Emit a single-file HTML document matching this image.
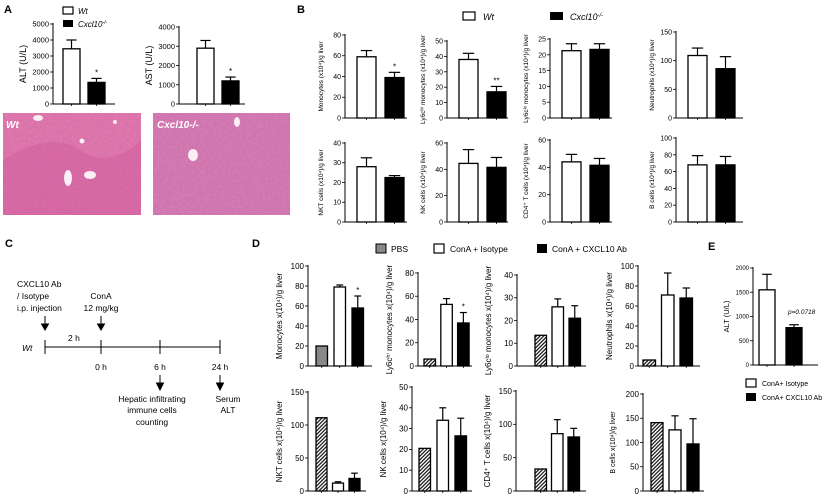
<!DOCTYPE html>
<html><head><meta charset="utf-8"><style>
html,body{margin:0;padding:0;background:#fff;}
svg{display:block;font-family:"Liberation Sans",Arial,sans-serif;}
</style></head><body>
<svg id="fig" width="829" height="497" viewBox="0 0 829 497">
<defs>
<pattern id="hatch" width="2.6" height="2.6" patternUnits="userSpaceOnUse" patternTransform="rotate(45)">
<rect width="2.6" height="2.6" fill="#fff"/><rect width="1.3" height="2.6" fill="#222"/></pattern>
<filter id="tex" x="0" y="0" width="1" height="1"><feTurbulence type="fractalNoise" baseFrequency="0.35" numOctaves="2" seed="3"/><feColorMatrix values="0 0 0 0 0.55  0 0 0 0 0.1  0 0 0 0 0.4  0 0 0 0.9 -0.2"/></filter>
<clipPath id="c1"><rect x="3" y="113" width="138" height="102"/></clipPath>
<clipPath id="c2"><rect x="153" y="113" width="137" height="102"/></clipPath>
</defs>
<g font-weight="bold" font-size="11" fill="#000">
<text x="4" y="13">A</text>
<text x="297" y="13">B</text>
<text x="5" y="247">C</text>
<text x="252" y="247">D</text>
<text x="708" y="250">E</text>
</g>
<g font-size="8" font-style="italic">
<rect x="63" y="7" width="10" height="7" fill="#fff" stroke="#000" stroke-width="1.2"/><text x="78" y="14">Wt</text>
<rect x="63" y="20" width="10" height="7" fill="#000"/><text x="78" y="27">Cxcl10<tspan font-size="5" dy="-3">-/-</tspan></text>
</g>
<g font-size="9">
<rect x="463" y="12" width="12" height="8" fill="#fff" stroke="#000" stroke-width="1.2"/><text x="483" y="20" font-style="italic">Wt</text>
<rect x="550" y="12" width="13" height="8" fill="#000"/><text x="570" y="20" font-style="italic">Cxcl10<tspan font-size="6" dy="-3">-/-</tspan></text>
</g>
<g font-size="8.5">
<rect x="376" y="244" width="10" height="9" fill="#888" stroke="#000"/><text x="391" y="252">PBS</text>
<rect x="434" y="244" width="10" height="9" fill="#fff" stroke="#000" stroke-width="1.2"/><text x="450" y="252">ConA + Isotype</text>
<rect x="537" y="244" width="10" height="9" fill="#000"/><text x="552" y="252">ConA + CXCL10 Ab</text>
</g>
<g font-size="7">
<rect x="746" y="379" width="10" height="8" fill="#fff" stroke="#000" stroke-width="1.2"/><text x="762" y="386">ConA+ Isotype</text>
<rect x="746" y="393" width="10" height="8" fill="#000"/><text x="762" y="400">ConA+ CXCL10 Ab</text>
</g>
<g clip-path="url(#c1)">
<rect x="3" y="113" width="138" height="102" fill="#e07aab"/>
<rect x="3" y="113" width="138" height="102" filter="url(#tex)" opacity="0.6"/>
<path d="M3 160 Q50 130 80 150 Q110 170 141 140 L141 215 L3 215Z" fill="#cf5c9c" opacity="0.45"/>
<ellipse cx="68" cy="178" rx="4" ry="8" fill="#fbeef4"/><ellipse cx="90" cy="175" rx="6" ry="4" fill="#fbeef4"/><ellipse cx="82" cy="141" rx="2.5" ry="2.5" fill="#fbeef4"/><ellipse cx="38" cy="118" rx="5" ry="3" fill="#fbeef4"/><ellipse cx="115" cy="122" rx="2" ry="2" fill="#fbeef4"/>
<text x="6" y="128" font-size="10" font-weight="bold" font-style="italic" fill="#fff">Wt</text>
</g>
<g clip-path="url(#c2)">
<rect x="153" y="113" width="137" height="102" fill="#d47db2"/>
<rect x="153" y="113" width="137" height="102" filter="url(#tex)" opacity="0.6"/>
<ellipse cx="193" cy="155" rx="5" ry="6" fill="#fbeef4"/><ellipse cx="237" cy="122" rx="3" ry="5" fill="#fbeef4"/>
<text x="157" y="128" font-size="10" font-weight="bold" font-style="italic" fill="#fff">Cxcl10-/-</text>
</g>
<g font-size="8.5" stroke-width="1">
<line x1="45" y1="347" x2="220" y2="347" stroke="#000"/>
<line x1="45" y1="340" x2="45" y2="354" stroke="#000"/><line x1="101" y1="340" x2="101" y2="354" stroke="#000"/>
<line x1="160" y1="340" x2="160" y2="354" stroke="#000"/><line x1="220" y1="340" x2="220" y2="354" stroke="#000"/>
<text x="22" y="351" font-style="italic">Wt</text><text x="68" y="341">2 h</text>
<text x="17" y="287">CXCL10 Ab</text><text x="17" y="299">/ Isotype</text><text x="17" y="311">i.p. injection</text>
<text x="101" y="299" text-anchor="middle">ConA</text><text x="101" y="311" text-anchor="middle">12 mg/kg</text>
<text x="101" y="370" text-anchor="middle">0 h</text><text x="160" y="370" text-anchor="middle">6 h</text><text x="220" y="370" text-anchor="middle">24 h</text>
<path d="M45 316V328M41.5 324L45 330 48.5 324Z M101 316V328M97.5 324L101 330 104.5 324Z M160 375V387M156.5 383L160 390 163.5 383Z M220 375V387M216.5 383L220 390 223.5 383Z" stroke="#000" fill="#000"/>
<text x="152" y="402" text-anchor="middle">Hepatic infiltrating</text><text x="152" y="413" text-anchor="middle">immune cells</text><text x="152" y="425" text-anchor="middle">counting</text>
<text x="228" y="402" text-anchor="middle">Serum</text><text x="228" y="413" text-anchor="middle">ALT</text>
</g>
<g id="charts"></g>
</svg>
<script>
// ---- data ----
const aLabels = ["ALT (U/L)", "AST (U/L)"];
const aValues = [[3450, 1350], [2900, 1200]];
const aErrors = [[4000, 1600], [3300, 1400]];
const aTicks = [[0, 1000, 2000, 3000, 4000, 5000], [0, 1000, 2000, 3000, 4000]];
const aStars = [["", "*"], ["", "*"]];

const bLabels = ["Monocytes (x10⁴)/g liver", "Ly6cʰⁱ monocytes (x10⁴)/g liver", "Ly6cˡᵒ monocytes (x10⁴)/g liver", "Neutrophils (x10⁴)/g liver",
  "NKT cells (x10⁴)/g liver", "NK cells (x10⁴)/g liver", "CD4⁺ T cells (x10⁴)/g liver", "B cells (x10⁴)/g liver"];
const bValues = [[59, 39], [38, 17], [21.3, 21.7], [109, 86], [28, 22.5], [44.5, 41.5], [44, 41.5], [68, 68]];
const bErrors = [[65, 44], [42, 20.5], [23.5, 23.5], [122, 107], [32.5, 23.5], [55, 49], [49.5, 46.5], [79, 78]];
const bTicks = [[0, 20, 40, 60, 80], [0, 10, 20, 30, 40, 50], [0, 5, 10, 15, 20, 25], [0, 50, 100, 150],
  [0, 10, 20, 30, 40], [0, 20, 40, 60], [0, 20, 40, 60], [0, 20, 40, 60, 80, 100]];
const bStars = [["", "*"], ["", "**"], ["", ""], ["", ""], ["", ""], ["", ""], ["", ""], ["", ""]];

const dLabels = ["Monocytes x(10⁴)/g liver", "Ly6cʰⁱ monocytes x(10⁴)/g liver", "Ly6cˡᵒ monocytes x(10⁴)/g liver", "Neutrophils x(10⁴)/g liver",
  "NKT cells x(10⁴)/g liver", "NK cells x(10⁴)/g liver", "CD4⁺ T cells x(10⁴)/g liver", "B cells x(10⁴)/g liver"];
const dValues = [[20, 79, 58], [6, 53, 37], [13.5, 26, 21], [6, 71, 68], [111, 12, 19], [20.5, 34, 26.5], [33, 86, 81], [141, 126, 97]];
const dErrors = [[20, 81, 70], [6, 58, 46], [13.5, 29.5, 26.5], [6, 93, 78], [111, 14, 27], [20.5, 40, 35], [33, 107, 94], [141, 155, 149]];
const dTicks = [[0, 20, 40, 60, 80, 100], [0, 20, 40, 60, 80], [0, 10, 20, 30, 40], [0, 20, 40, 60, 80, 100],
  [0, 50, 100, 150], [0, 10, 20, 30, 40, 50], [0, 50, 100, 150], [0, 50, 100, 150, 200]];
const dStars = [["", "", "*"], ["", "", "*"], ["", "", ""], ["", "", ""], ["", "", ""], ["", "", ""], ["", "", ""], ["", "", ""]];

const eValues = [1550, 770];
const eErrors = [1870, 830];
const eTicks = [0, 500, 1000, 1500, 2000];

// ---- layout ----
const NS = "http://www.w3.org/2000/svg";
const root = document.getElementById("charts");
function mk(tag, attrs, parent) {
  const e = document.createElementNS(NS, tag);
  for (const k in attrs) e.setAttribute(k, attrs[k]);
  parent.appendChild(e);
  return e;
}
function plot(name, L, vals, errs, ticks, label, stars, fills, fs) {
  const g = mk("g", {}, root);
  
  
  const max = ticks[ticks.length - 1];
  const y = v => L.bottom - v / max * (L.bottom - L.top);
  const bx = i => L.bx0 + i * L.step;
  mk("line", {x1: L.x, y1: L.top - 1, x2: L.x, y2: L.bottom + 0.5, stroke: "#000", "stroke-width": 1}, g);
  mk("line", {x1: L.x, y1: L.bottom, x2: L.end, y2: L.bottom, stroke: "#000", "stroke-width": 1}, g);
  ticks.forEach(t => {
    mk("line", {x1: L.x - 3, y1: y(t), x2: L.x, y2: y(t), stroke: "#000", "stroke-width": 0.8}, g);
    const tx = mk("text", {x: L.x - 4, y: y(t) + fs * 0.35, "font-size": fs, "text-anchor": "end"}, g);
    tx.textContent = t;
  });
  vals.forEach((v, i) => {
    const x0 = bx(i), cx = x0 + L.bw / 2;
    mk("line", {x1: cx, y1: L.bottom, x2: cx, y2: L.bottom + 2, stroke: "#000", "stroke-width": 0.8}, g);
    if (errs[i] > v) {
      mk("line", {x1: cx, y1: y(v), x2: cx, y2: y(errs[i]), stroke: "#000", "stroke-width": 1.2}, g);
      mk("line", {x1: cx - L.bw * 0.3, y1: y(errs[i]), x2: cx + L.bw * 0.3, y2: y(errs[i]), stroke: "#000", "stroke-width": 1.2}, g);
    }
    let f = fills[i];
    if (f === "url(#hatch)" && name === "chart-d-0") f = "#888";
    const r = mk("rect", {x: x0, y: y(v), width: L.bw, height: L.bottom - y(v), fill: f, stroke: "#000", "stroke-width": 1.3}, g);
    
    
    if (stars[i]) {
      const s = mk("text", {x: cx, y: y(errs[i]) - 3, "font-size": 8, "text-anchor": "middle"}, g);
      s.textContent = stars[i];
    }
  });
  const ly = (L.top + L.bottom) / 2;
  const lt = mk("text", {x: L.x - L.lab, y: ly, "font-size": L.lfs, "text-anchor": "middle", transform: "rotate(-90 " + (L.x - L.lab) + " " + ly + ")"}, g);
  lt.textContent = label;
  return y;
}
const two = ["#fff", "#000"], three = ["url(#hatch)", "#fff", "#000"];
// A
const aLay = [{x: 53, top: 24, bottom: 104, end: 115, bx0: 63, step: 25, bw: 17, lab: 27, lfs: 9},
              {x: 179, top: 27, bottom: 104, end: 245, bx0: 197, step: 25, bw: 17, lab: 27, lfs: 9}];
aLay.forEach((L, i) => plot("chart-a-" + i, L, aValues[i], aErrors[i], aTicks[i], aLabels[i], aStars[i], two, 7.5));
// B
const bX = [345, 447, 550, 676], bEnds = [407, 508, 612, 743];
bValues.forEach((v, i) => {
  const c = i % 4, r = Math.floor(i / 4);
  const top = r === 0 ? [35, 41, 39, 32][c] : [143, 143, 140, 138][c];
  const L = {x: bX[c], top: top, bottom: r === 0 ? 118 : 222, end: bEnds[c], bx0: bX[c] + 12, step: 28, bw: 19, lab: 22, lfs: 6.5};
  plot("chart-b-" + i, L, v, bErrors[i], bTicks[i], bLabels[i], bStars[i], two, 7);
});
// D
const dLay = [
  {x: 308, top: 266, bottom: 366, end: 372, bx0: 316, step: 18, bw: 11.5},
  {x: 418, top: 273, bottom: 366, end: 472, bx0: 424, step: 16.8, bw: 11.5},
  {x: 517, top: 275, bottom: 366, end: 586, bx0: 535, step: 17, bw: 11.5},
  {x: 638, top: 266, bottom: 366, end: 700, bx0: 643, step: 18.5, bw: 12.5},
  {x: 308, top: 392, bottom: 491, end: 366, bx0: 316, step: 16.5, bw: 11},
  {x: 412, top: 387, bottom: 491, end: 472, bx0: 419, step: 18, bw: 11.5},
  {x: 516, top: 391, bottom: 491, end: 586, bx0: 535, step: 16.5, bw: 11.5},
  {x: 643, top: 394, bottom: 491, end: 704, bx0: 651, step: 18, bw: 12}
];
dValues.forEach((v, i) => {
  const L = Object.assign({lab: 26, lfs: 8}, dLay[i]);
  if (i === 7) { L.lab = 28; L.lfs = 7; }
  plot("chart-d-" + i, L, v, dErrors[i], dTicks[i], dLabels[i], dStars[i], three, 8);
});
// E
plot("chart-e", {x: 753, top: 268, bottom: 365, end: 818, bx0: 759, step: 27, bw: 16, lab: 24, lfs: 7.5}, eValues, eErrors, eTicks, "ALT (U/L)", ["", ""], two, 6);
const pt = mk("text", {x: 788, y: 314, "font-size": 6.5, "font-style": "italic"}, root);


pt.textContent = "p=0.0718";
</script>
</body></html>
